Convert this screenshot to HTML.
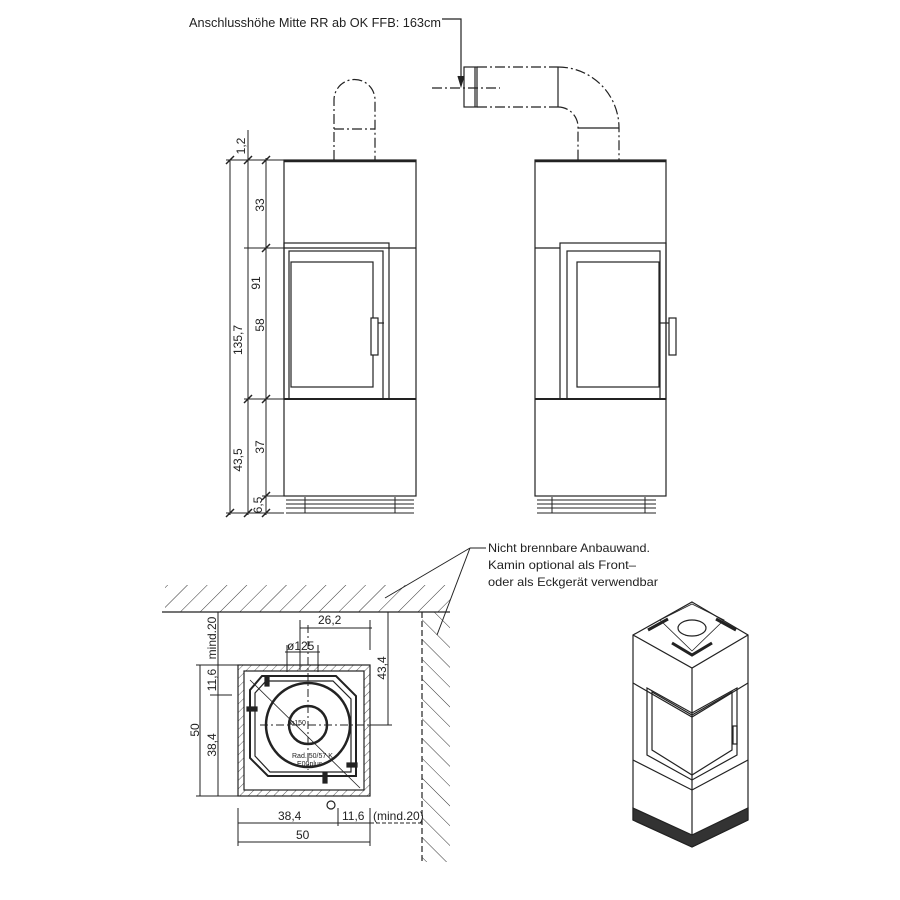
<!DOCTYPE html>
<html><head><meta charset="utf-8"><style>html,body{margin:0;padding:0;background:#fff}svg{display:block}text{font-family:"Liberation Sans Narrow","Liberation Sans",sans-serif;fill:#222}</style></head><body>
<svg width="900" height="900" viewBox="0 0 900 900" xmlns="http://www.w3.org/2000/svg">
<defs>
<pattern id="h1" width="14" height="14" patternUnits="userSpaceOnUse" patternTransform="rotate(45)"><line x1="0" y1="0" x2="0" y2="14" stroke="#333" stroke-width="1"/></pattern>
<pattern id="h2" width="14" height="14" patternUnits="userSpaceOnUse" patternTransform="rotate(-45)"><line x1="0" y1="0" x2="0" y2="14" stroke="#333" stroke-width="1"/></pattern>
<pattern id="h3" width="6" height="6" patternUnits="userSpaceOnUse" patternTransform="rotate(45)"><line x1="0" y1="0" x2="0" y2="6" stroke="#333" stroke-width="0.8"/></pattern>
</defs>
<g stroke="#222" fill="none" stroke-width="1.2">
<text x="189" y="27" font-size="13" stroke="none" textLength="252" lengthAdjust="spacingAndGlyphs">Anschlusshöhe Mitte RR ab OK FFB: 163cm</text>
<polyline points="442,19 461,19 461,84"/>
<path d="M458,76 L461,86 L464,76" fill="#222"/>
<line x1="432" y1="88" x2="500" y2="88" stroke-dasharray="10,3,2,3"/>

<path d="M334,160 V100 A20.5,20.5 0 0 1 375,100 V160" stroke-dasharray="10,3,2,3"/>
<line x1="334" y1="129" x2="375" y2="129" stroke-dasharray="10,3,2,3"/>
<rect x="284" y="160" width="132" height="336" fill="#fff"/>
<line x1="284" y1="161" x2="416" y2="161" stroke-width="2.5"/>
<line x1="284" y1="248" x2="416" y2="248"/>
<line x1="284" y1="399" x2="416" y2="399" stroke-width="2"/>
<rect x="284" y="243" width="105" height="156"/>
<rect x="289" y="251" width="94" height="148"/>
<rect x="291" y="262" width="82" height="125"/>
<rect x="371" y="318" width="7" height="37" fill="#fff"/>
<line x1="378" y1="323" x2="384" y2="323"/>
<g stroke-width="1">
<line x1="286" y1="500" x2="414" y2="500"/><line x1="286" y1="504" x2="414" y2="504"/><line x1="286" y1="508" x2="414" y2="508"/><line x1="286" y1="513" x2="414" y2="513"/>
<line x1="305" y1="497" x2="305" y2="513"/><line x1="395" y1="497" x2="395" y2="513"/>
</g>
<g stroke-width="1">
<line x1="230" y1="160" x2="230" y2="515"/>
<line x1="248" y1="158" x2="248" y2="515"/>
<line x1="266" y1="158" x2="266" y2="515"/>
<line x1="226" y1="160" x2="284" y2="160"/>
<line x1="244" y1="248" x2="284" y2="248"/>
<line x1="244" y1="399" x2="284" y2="399"/>
<line x1="262" y1="496" x2="284" y2="496"/>
<line x1="226" y1="513" x2="284" y2="513"/>
<line x1="248" y1="130" x2="248" y2="160"/>
<g stroke-width="1.5"><line x1="226" y1="164" x2="234" y2="156"/><line x1="244" y1="164" x2="252" y2="156"/><line x1="262" y1="164" x2="270" y2="156"/><line x1="262" y1="252" x2="270" y2="244"/><line x1="244" y1="403" x2="252" y2="395"/><line x1="262" y1="403" x2="270" y2="395"/><line x1="262" y1="500" x2="270" y2="492"/><line x1="226" y1="517" x2="234" y2="509"/><line x1="244" y1="517" x2="252" y2="509"/><line x1="262" y1="517" x2="270" y2="509"/></g>
</g>
<g font-size="12" stroke="none">
<text transform="translate(245,146) rotate(-90)" text-anchor="middle">1,2</text>
<text transform="translate(242,340) rotate(-90)" text-anchor="middle">135,7</text>
<text transform="translate(260,283) rotate(-90)" text-anchor="middle">91</text>
<text transform="translate(242,460) rotate(-90)" text-anchor="middle">43,5</text>
<text transform="translate(262,505) rotate(-90)" text-anchor="middle">6,5</text>
<text transform="translate(264,205) rotate(-90)" text-anchor="middle">33</text>
<text transform="translate(264,325) rotate(-90)" text-anchor="middle">58</text>
<text transform="translate(264,447) rotate(-90)" text-anchor="middle">37</text>
</g>

<g stroke-dasharray="10,3,2,3">
<line x1="477" y1="67" x2="558" y2="67"/><line x1="477" y1="107" x2="558" y2="107"/>
<path d="M558,67 A61,61 0 0 1 619,128 V160"/>
<path d="M558,107 A20,20 0 0 1 578,128 V160"/>
</g>
<rect x="464" y="67" width="13" height="40"/>
<line x1="475" y1="67" x2="475" y2="107"/>
<line x1="558" y1="67" x2="558" y2="107"/>
<line x1="578" y1="128" x2="619" y2="128"/>
<rect x="535" y="160" width="131" height="336" fill="#fff"/>
<line x1="535" y1="161" x2="666" y2="161" stroke-width="2.5"/>
<line x1="535" y1="248" x2="560" y2="248"/>
<line x1="535" y1="399" x2="666" y2="399" stroke-width="2"/>
<rect x="560" y="243" width="106" height="156"/>
<rect x="567" y="251" width="93" height="148"/>
<rect x="577" y="262" width="82" height="125"/>
<rect x="669" y="318" width="7" height="37" fill="#fff"/>
<line x1="660" y1="323" x2="669" y2="323"/>
<g stroke-width="1">
<line x1="537" y1="500" x2="656" y2="500"/><line x1="537" y1="504" x2="656" y2="504"/><line x1="537" y1="508" x2="656" y2="508"/><line x1="537" y1="513" x2="656" y2="513"/>
<line x1="552" y1="497" x2="552" y2="513"/><line x1="645" y1="497" x2="645" y2="513"/>
</g>

<rect x="165" y="585" width="285" height="27" fill="url(#h1)" stroke="none"/>
<rect x="422" y="612" width="28" height="250" fill="url(#h2)" stroke="none"/>
<line x1="162" y1="612" x2="450" y2="612"/>
<line x1="422" y1="612" x2="422" y2="862" stroke-dasharray="6,3"/>
<rect x="238" y="665" width="132" height="131" fill="url(#h3)"/>
<rect x="244" y="671" width="120" height="119" fill="#fff"/>
<path d="M262,676 H336 L356,696 V776 H268 L250,758 V690 Z" stroke-width="2"/>
<path d="M266,681 H333 L351,699 V772 H270 L255,756 V693 Z"/>
<circle cx="308" cy="725" r="42" stroke-width="2.5"/>
<circle cx="308" cy="725" r="19" stroke-width="2.5"/>
<line x1="260" y1="725" x2="390" y2="725" stroke-width="1" stroke-dasharray="8,3,2,3"/>
<line x1="308" y1="625" x2="308" y2="770" stroke-width="1" stroke-dasharray="8,3,2,3"/>
<line x1="250" y1="680" x2="360" y2="788" stroke-width="0.8"/>
<rect x="265" y="676" width="4" height="10" fill="#222"/><rect x="247" y="707" width="10" height="4" fill="#222"/><rect x="347" y="763" width="10" height="4" fill="#222"/><rect x="323" y="773" width="4" height="10" fill="#222"/>
<circle cx="331" cy="805" r="4"/>
<g font-size="7" stroke="none"><text x="290" y="725">ø150</text><text x="292" y="758">Rad. 50/57 K</text><text x="297" y="766">E00plus</text></g>
<g stroke-width="1">
<line x1="300" y1="628" x2="372" y2="628"/><line x1="300" y1="620" x2="300" y2="670"/><line x1="370" y1="620" x2="370" y2="650"/>
<line x1="285" y1="652" x2="320" y2="652"/><line x1="287" y1="645" x2="287" y2="672"/><line x1="318" y1="645" x2="318" y2="672"/>
<line x1="388" y1="612" x2="388" y2="725"/><line x1="370" y1="612" x2="392" y2="612"/><line x1="370" y1="725" x2="392" y2="725"/>
<line x1="218" y1="612" x2="218" y2="665"/>
<line x1="218" y1="665" x2="218" y2="796"/><line x1="200" y1="665" x2="200" y2="796"/>
<line x1="196" y1="665" x2="238" y2="665"/><line x1="210" y1="695" x2="232" y2="695"/><line x1="196" y1="796" x2="238" y2="796"/>
<line x1="238" y1="808" x2="238" y2="846"/><line x1="370" y1="808" x2="370" y2="846"/><line x1="338" y1="808" x2="338" y2="826"/>
<line x1="238" y1="823" x2="370" y2="823"/><line x1="370" y1="823" x2="422" y2="823" stroke-dasharray="4,2"/>
<line x1="238" y1="842" x2="370" y2="842"/>
<line x1="470" y1="548" x2="486" y2="548"/><line x1="470" y1="548" x2="385" y2="598"/><line x1="470" y1="548" x2="437" y2="635"/>
</g>
<g font-size="12" stroke="none">
<text x="318" y="624">26,2</text><text x="287" y="650">ø125</text>
<text transform="translate(386,668) rotate(-90)" text-anchor="middle">43,4</text>
<text transform="translate(216,638) rotate(-90)" text-anchor="middle">mind.20</text>
<text transform="translate(216,680) rotate(-90)" text-anchor="middle">11,6</text>
<text transform="translate(216,745) rotate(-90)" text-anchor="middle">38,4</text>
<text transform="translate(199,730) rotate(-90)" text-anchor="middle">50</text>
<text x="278" y="820">38,4</text><text x="342" y="820">11,6</text><text x="373" y="820">(mind.20)</text>
<text x="296" y="839">50</text>
<text x="488" y="552" textLength="162" lengthAdjust="spacingAndGlyphs">Nicht brennbare Anbauwand.</text>
<text x="488" y="569" textLength="148" lengthAdjust="spacingAndGlyphs">Kamin optional als Front–</text>
<text x="488" y="586" textLength="170" lengthAdjust="spacingAndGlyphs">oder als Eckgerät verwendbar</text>
</g>

<path d="M692,602 L748,635 L748,820 L692,847 L633,820 L633,635 Z" fill="#fff"/>
<path d="M633,635 L692,668 L748,635"/>
<line x1="692" y1="668" x2="692" y2="847"/>
<path d="M633,683 L692,717 L748,683"/>
<path d="M633,760 L692,790 L748,760"/>
<path d="M633,808 L692,835 L748,808 L748,820 L692,847 L633,820 Z" fill="#333"/>
<path d="M647,688 L692,713 L737,688 L737,755 L692,780 L647,755 Z"/>
<path d="M652,692 L692,715 L732,692 L732,750 L692,775 L652,750 Z"/>
<rect x="733" y="726" width="4" height="18"/>
<ellipse cx="692" cy="628" rx="14" ry="8"/>
<path d="M648,630 L668,619 M716,619 L736,630 M672,643 L692,655 L712,643" stroke-width="3"/>
<path d="M660,620 L692,604 L724,620 L692,651 Z" stroke-width="0.8"/>
</g>
</svg>
</body></html>
